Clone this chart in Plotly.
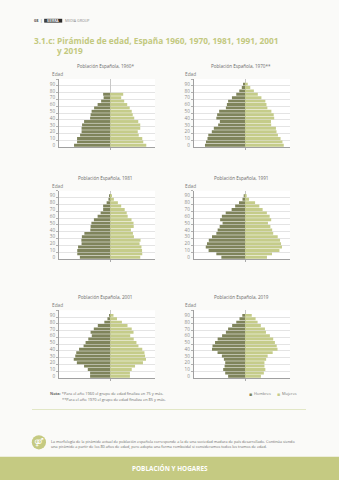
import plotly.graph_objects as go

# ---------------- DATA ----------------
ages = [0, 5, 10, 15, 20, 25, 30, 35, 40, 45, 50, 55, 60, 65, 70, 75, 80, 85, 90]
ages_1960 = ages[:16]
tick_ages = [0, 10, 20, 30, 40, 50, 60, 70, 80, 90]

male_1960 = [3.6, 3.3, 3.3, 3.0, 2.85, 2.85, 2.8, 2.6, 2.0, 1.95, 1.85, 1.6, 1.25, 0.9, 0.65, 0.7]
female_1960 = [3.6, 3.3, 3.2, 2.85, 2.75, 3.0, 3.0, 2.8, 2.4, 2.25, 2.15, 1.95, 1.7, 1.4, 1.1, 1.3]

male_1970 = [3.98, 3.88, 3.73, 3.65, 3.3, 3.1, 2.67, 2.5, 2.85, 2.77, 2.57, 1.9, 1.8, 1.68, 1.3, 0.87, 0.57, 0.32, 0.2]
female_1970 = [3.85, 3.72, 3.53, 3.27, 3.13, 3.07, 2.6, 2.58, 2.9, 2.85, 2.62, 2.22, 2.13, 2.02, 1.63, 1.27, 0.88, 0.52, 0.27]

male_1981 = [3.02, 3.28, 3.28, 3.2, 2.85, 2.87, 2.82, 2.57, 1.98, 1.95, 1.87, 1.62, 1.25, 0.95, 0.7, 0.7, 0.35, 0.17, 0.05]
female_1981 = [3.0, 3.2, 3.18, 3.12, 2.93, 3.03, 2.37, 2.27, 2.07, 2.35, 2.33, 2.13, 1.75, 1.65, 1.45, 1.1, 0.77, 0.37, 0.15]

male_1991 = [2.35, 2.85, 3.62, 3.9, 3.78, 3.6, 3.28, 2.85, 2.72, 2.52, 2.23, 2.47, 2.3, 1.92, 1.33, 0.98, 0.6, 0.25, 0.05]
female_1991 = [2.18, 2.68, 3.42, 3.67, 3.58, 3.48, 3.25, 2.8, 2.7, 2.52, 2.28, 2.6, 2.45, 2.17, 1.75, 1.42, 1.0, 0.4, 0.13]

male_2001 = [2.0, 2.0, 2.23, 2.6, 3.32, 3.63, 3.48, 3.38, 3.1, 2.65, 2.45, 2.18, 1.83, 1.95, 1.63, 1.23, 0.58, 0.27, 0.07]
female_2001 = [1.97, 1.97, 2.15, 2.48, 3.27, 3.57, 3.48, 3.42, 3.2, 2.82, 2.62, 2.35, 2.0, 2.33, 2.15, 1.73, 1.17, 0.68, 0.33]

male_2019 = [1.68, 1.97, 2.17, 2.03, 1.97, 2.1, 2.3, 2.73, 3.28, 3.23, 2.98, 2.72, 2.28, 1.9, 1.68, 1.28, 0.87, 0.55, 0.27]
female_2019 = [1.58, 1.87, 2.02, 1.93, 1.93, 2.1, 2.25, 2.75, 3.23, 3.15, 2.97, 2.8, 2.47, 2.08, 1.98, 1.57, 1.25, 1.05, 0.67]

panel_titles = ["Población Española, 1960*", "Población Española, 1970**",
                "Población Española, 1981", "Población Española, 1991",
                "Población Española, 2001", "Población Española, 2019"]
series_names = ["Hombres", "Mujeres"]

# ---------------- STYLE ----------------
W, H = 339, 480
MALE = "#7f845b"
FEMALE = "#c5cc8a"
GREEN = "#c3c97f"
BG = "#fafaf8"
X_RANGE = [-5.1, 4.47]
Y_RANGE = [-2.5, 97.5]


def px(x):
    return x / W


def py(y):
    return 1 - y / H


panels = [
    (ages_1960, male_1960, female_1960),
    (ages, male_1970, female_1970),
    (ages, male_1981, female_1981),
    (ages, male_1991, female_1991),
    (ages, male_2001, female_2001),
    (ages, male_2019, female_2019),
]

col_x = [(59, 155), (193.7, 290)]
row_y = [(79, 147), (190.7, 259), (310.3, 378)]
title_y = [66, 178, 296.7]
edad_y = [74, 185.7, 304.7]
title_x = [105, 241]
edad_x = [50, 183]

fig = go.Figure()
layout_axes = {}
annotations = []

for i, (a, m, f) in enumerate(panels):
    r, c = divmod(i, 2)
    n = i + 1
    xa = "x" if n == 1 else f"x{n}"
    ya = "y" if n == 1 else f"y{n}"
    fig.add_trace(go.Bar(y=a, x=[-v for v in m], orientation="h", width=4.3,
                         marker=dict(color=MALE, line=dict(width=0)),
                         name=series_names[0], xaxis=xa, yaxis=ya, showlegend=False))
    fig.add_trace(go.Bar(y=a, x=f, orientation="h", width=4.3,
                         marker=dict(color=FEMALE, line=dict(width=0)),
                         name=series_names[1], xaxis=xa, yaxis=ya, showlegend=False))
    x0, x1 = col_x[c]
    y0, y1 = row_y[r]
    xkey = "xaxis" if n == 1 else f"xaxis{n}"
    ykey = "yaxis" if n == 1 else f"yaxis{n}"
    layout_axes[xkey] = dict(
        domain=[px(x0), px(x1)], anchor=ya, range=X_RANGE, fixedrange=True,
        tickvals=[0], showticklabels=False, ticks="outside", ticklen=2,
        tickcolor="#aaaaaa", showgrid=True, gridcolor="#c8c8c8", gridwidth=1,
        zeroline=False, showline=True, linecolor="#a0a0a0", linewidth=1,
        minor=dict(tickvals=[X_RANGE[1]], showgrid=True, gridcolor="#e4e4e4", ticks=""),
    )
    layout_axes[ykey] = dict(
        domain=[py(y1), py(y0)], anchor=xa, range=Y_RANGE, fixedrange=True,
        tickvals=tick_ages, ticktext=[str(t) for t in tick_ages], ticks="",
        tickfont=dict(size=4.6, color="#8a8a8a", family="Open Sans"),
        showgrid=False, zeroline=False, showline=True, linecolor="#a0a0a0", linewidth=1,
        ticklabelstandoff=2,
        minor=dict(tickvals=[v + 7.5 for v in tick_ages], showgrid=True,
                   gridcolor="#e4e4e4", ticks="outside", ticklen=2, tickcolor="#b0b0b0"),
    )
    annotations.append(dict(x=px(title_x[c]), y=py(title_y[r]), xref="paper", yref="paper",
                            text=panel_titles[i], showarrow=False, xanchor="center", yanchor="middle",
                            font=dict(size=4.6, color="#6a6a6a", family="Open Sans")))
    annotations.append(dict(x=px(edad_x[c]), y=py(edad_y[r]), xref="paper", yref="paper",
                            text="Edad", showarrow=False, xanchor="left", yanchor="middle",
                            font=dict(size=4.8, color="#7a7a7a", family="Open Sans")))


def txt(x, y, text, size, color, anchor="left", family="Open Sans"):
    annotations.append(dict(x=px(x), y=py(y), xref="paper", yref="paper", text=text,
                            showarrow=False, xanchor=anchor, yanchor="middle",
                            font=dict(size=size, color=color, family=family)))


# header
txt(31.5, 20.7, "<b>08</b>  |  ⊕", 3.8, "#555555")
txt(63, 20.7, "MEDIA GROUP", 3.6, "#8a8a8a")
txt(53.2, 20.7, "<b>SIERRA</b>", 3.4, "#ffffff", anchor="center")

# main title
txt(31.5, 40.2, "<b>3.1.c: Pirámide de edad, España 1960, 1970, 1981, 1991, 2001</b>", 8.3, GREEN)
txt(54.5, 50.2, "<b>y 2019</b>", 8.3, GREEN)

# notes
txt(47.5, 393.8, "<b>Nota:</b> *Para el año 1960 el grupo de edad finaliza en 75 y más.", 3.9, "#6a6a6a")
txt(60.3, 399.6, "**Para el año 1970 el grupo de edad finaliza en 85 y más.", 3.9, "#6a6a6a")

# legend
txt(246.5, 393.6, "■", 5, MALE)
txt(251.5, 393.8, series_names[0], 3.9, "#7a7a7a")
txt(274.5, 393.6, "■", 5, FEMALE)
txt(279.8, 393.8, series_names[1], 3.9, "#7a7a7a")

# paragraph
txt(49.3, 441.3, "La morfología de la pirámide actual de población española corresponde a la de una sociedad madura de país desarrollado. Continúa siendo", 3.75, "#6a6a6a")
txt(49.3, 446.4, "una pirámide a partir de los 80 años de edad, pero adopta una forma romboidal si consideramos todos los tramos de edad.", 3.75, "#6a6a6a")
txt(38.8, 442.3, "⚤", 8, "#ffffff", anchor="center", family="DejaVu Sans")

# footer
txt(169.5, 468.6, "<b>POBLACIÓN Y HOGARES</b>", 6.4, "#ffffff", anchor="center")

shapes = [
    dict(type="rect", xref="paper", yref="paper", x0=px(44.2), x1=px(62.2), y0=py(22.6), y1=py(18.8),
         fillcolor="#2b2b2b", line=dict(width=0), layer="below"),
    dict(type="line", xref="paper", yref="paper", x0=px(32), x1=px(306), y0=py(409.5), y1=py(409.5),
         line=dict(color="#e2e7c6", width=1)),
    dict(type="circle", xref="paper", yref="paper", x0=px(31.8), x1=px(46), y0=py(449.4), y1=py(435.2),
         fillcolor="#c5ca82", line=dict(width=0), layer="below"),
    dict(type="rect", xref="paper", yref="paper", x0=0, x1=1, y0=0, y1=py(456.8),
         fillcolor="#c5ca82", line=dict(width=0), layer="below"),
]

fig.update_layout(
    width=W, height=H, autosize=False,
    margin=dict(l=0, r=0, t=0, b=0, pad=0),
    paper_bgcolor=BG, plot_bgcolor="#ffffff",
    barmode="overlay", bargap=0.1,
    showlegend=False,
    font=dict(family="Open Sans"),
    annotations=annotations, shapes=shapes,
    **layout_axes,
)

fig.write_html("out.html", config={"displayModeBar": False})
